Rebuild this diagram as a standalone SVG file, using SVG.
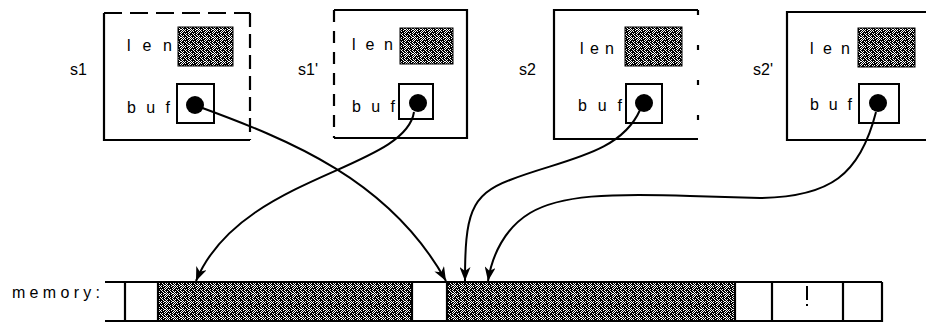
<svg xmlns="http://www.w3.org/2000/svg" width="926" height="322" viewBox="0 0 926 322">
<style>
.ln{stroke:#000;stroke-width:2.2;fill:none}
.val{fill:url(#dither);stroke:#000;stroke-width:1}
.ptr{fill:#fff;stroke:#000;stroke-width:2}
.dot{fill:#000}
.lbl{font-family:"Liberation Sans",Arial,sans-serif;font-size:16px;fill:#000}
.name{font-family:"Liberation Sans",Arial,sans-serif;font-size:16px;fill:#000}
.conn{fill:none;stroke:#000;stroke-width:2}
</style>
<defs>
<pattern id="dither" patternUnits="userSpaceOnUse" width="8" height="8">
<rect width="8" height="8" fill="#fff"/>
<path fill="#000" shape-rendering="crispEdges" d="M0 0h4v1h-4z M5 0h1v1h-1z M7 0h1v1h-1z M1 1h1v1h-1z M3 1h2v1h-2z M6 1h2v1h-2z M0 2h1v1h-1z M2 2h2v1h-2z M5 2h3v1h-3z M0 3h2v1h-2z M3 3h2v1h-2z M6 3h1v1h-1z M0 4h3v1h-3z M4 4h2v1h-2z M7 4h1v1h-1z M0 5h1v1h-1z M2 5h2v1h-2z M6 5h1v1h-1z M1 6h2v1h-2z M4 6h2v1h-2z M7 6h1v1h-1z M0 7h1v1h-1z M2 7h3v1h-3z M6 7h1v1h-1z"/>
</pattern>
<marker id="arr" markerUnits="userSpaceOnUse" markerWidth="14" markerHeight="11" refX="14" refY="5.5" orient="auto">
<path d="M0,0 L14,5.5 L0,11 L4,5.5 z" fill="#000"/>
</marker>
</defs>

<g id="node-s1">
<path class="ln" d="M104,13 V140 H250"/>
<path class="ln" d="M104,13 H250" stroke-dasharray="18,8"/>
<path class="ln" d="M250,13 V140" stroke-dasharray="14,7"/>
<text class="name" x="70" y="75">s1</text>
<text class="lbl" x="127" y="51" textLength="45" lengthAdjust="spacing">len</text>
<rect class="val" x="178" y="27" width="55" height="39"/>
<text class="lbl" x="127" y="113" textLength="43" lengthAdjust="spacing">buf</text>
<rect class="ptr" x="177" y="84" width="37" height="39"/>
<circle class="dot" cx="195" cy="105" r="9"/>
</g>

<g id="node-s1p">
<path class="ln" d="M334,10 H467 V138 H334"/>
<path class="ln" d="M334,10 V138" stroke-dasharray="12,9"/>
<text class="name" x="298" y="75">s1'</text>
<text class="lbl" x="352" y="50" textLength="41" lengthAdjust="spacing">len</text>
<rect class="val" x="400" y="28" width="53" height="36"/>
<text class="lbl" x="352" y="112" textLength="43" lengthAdjust="spacing">buf</text>
<rect class="ptr" x="399" y="84" width="34" height="35"/>
<circle class="dot" cx="418" cy="103" r="9"/>
</g>

<g id="node-s2">
<path class="ln" d="M698,10 H554 V139 H698"/>
<path class="ln" d="M698,10 V139" stroke-dasharray="5,30"/>
<text class="name" x="519" y="75">s2</text>
<text class="lbl" x="580" y="54" textLength="34" lengthAdjust="spacing">len</text>
<rect class="val" x="625" y="27" width="57" height="39"/>
<text class="lbl" x="578" y="111" textLength="44" lengthAdjust="spacing">buf</text>
<rect class="ptr" x="626" y="84" width="36" height="39"/>
<circle class="dot" cx="644" cy="103" r="9"/>
</g>

<g id="node-s2p">
<path class="ln" d="M926,12 H787 V140 H926"/>
<text class="name" x="753" y="75">s2'</text>
<text class="lbl" x="810" y="54" textLength="40" lengthAdjust="spacing">len</text>
<rect class="val" x="858" y="28" width="57" height="39"/>
<text class="lbl" x="810" y="110" textLength="42" lengthAdjust="spacing">buf</text>
<rect class="ptr" x="859" y="84" width="40" height="39"/>
<circle class="dot" cx="878" cy="103" r="9"/>
</g>

<g id="memory">
<text class="name" x="12" y="298" textLength="88" lengthAdjust="spacing" font-size="17">memory:</text>
<rect x="158" y="282" width="254" height="40" fill="url(#dither)"/>
<rect x="447" y="282" width="288" height="40" fill="url(#dither)"/>
<path class="ln" d="M105,282 H882 M105,321 H882 M125,282 V322 M158,282 V322 M412,282 V322 M447,282 V322 M735,282 V322 M772,282 V322 M843,282 V322 M882,282 V322"/>
<path d="M807,286 V300" stroke="#000" stroke-width="2"/>
<rect x="806" y="304" width="2" height="2" fill="#000"/>
</g>

<g id="connectors">
<path class="conn" marker-end="url(#arr)" d="M197,106 C290,140 390,180 446,281"/>
<path class="conn" marker-end="url(#arr)" d="M414,112 C405,170 240,175 196,281"/>
<path class="conn" marker-end="url(#arr)" d="M640,110 C620,155 560,160 510,180 C470,195 465,215 465,281"/>
<path class="conn" marker-end="url(#arr)" d="M876,112 C860,175 830,197 760,198 L690,196 C610,193 560,195 530,213 C505,228 492,255 488,281"/>
</g>
</svg>
